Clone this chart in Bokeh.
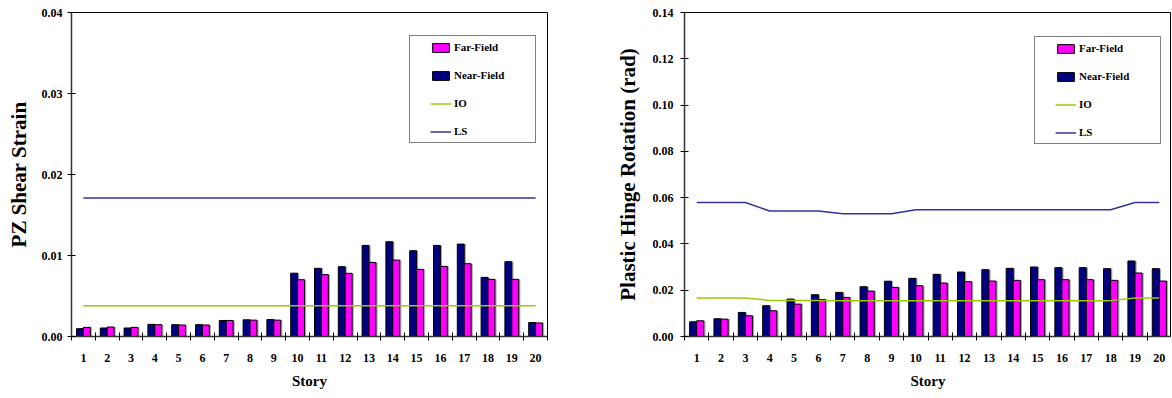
import numpy as np
from bokeh.plotting import figure
from bokeh.layouts import row
from bokeh.models import (FixedTicker, Legend, LegendItem, Range1d,
                          ColumnDataSource, PrintfTickFormatter)
from bokeh.embed import file_html
from bokeh.resources import INLINE

# ---------------- data ----------------
stories = list(range(1, 21))

pz_near = [0.00097, 0.00105, 0.00105, 0.00150, 0.00146, 0.00146, 0.00198, 0.00206, 0.00210, 0.00782,
           0.00842, 0.00862, 0.01125, 0.01170, 0.01059, 0.01125, 0.01141, 0.00730, 0.00924, 0.00172]
pz_far = [0.00113, 0.00117, 0.00113, 0.00146, 0.00142, 0.00142, 0.00198, 0.00202, 0.00202, 0.00701,
          0.00764, 0.00780, 0.00915, 0.00944, 0.00829, 0.00866, 0.00899, 0.00706, 0.00706, 0.00168]
pz_io = [0.0038, 0.0038, 0.0038, 0.0038, 0.0038, 0.0038, 0.0038, 0.0038, 0.0038, 0.0038,
         0.0038, 0.0038, 0.0038, 0.0038, 0.0038, 0.0038, 0.0038, 0.0038, 0.0038, 0.0038]
pz_ls = [0.0171, 0.0171, 0.0171, 0.0171, 0.0171, 0.0171, 0.0171, 0.0171, 0.0171, 0.0171,
         0.0171, 0.0171, 0.0171, 0.0171, 0.0171, 0.0171, 0.0171, 0.0171, 0.0171, 0.0171]
pz_yticks = [0.00, 0.01, 0.02, 0.03, 0.04]

ph_near = [0.00635, 0.00765, 0.01040, 0.01329, 0.01617, 0.01805, 0.01906, 0.02150, 0.02390, 0.02513,
           0.02686, 0.02787, 0.02888, 0.02946, 0.03004, 0.02975, 0.02975, 0.02931, 0.03264, 0.02931]
ph_far = [0.00679, 0.00750, 0.00895, 0.01112, 0.01400, 0.01600, 0.01690, 0.01964, 0.02123, 0.02195,
          0.02310, 0.02368, 0.02397, 0.02426, 0.02455, 0.02455, 0.02455, 0.02426, 0.02744, 0.02397]
ph_io = [0.0166, 0.0166, 0.0166, 0.0156, 0.0156, 0.0156, 0.0154, 0.0154, 0.0154, 0.0155,
         0.0155, 0.0155, 0.0155, 0.0155, 0.0155, 0.0155, 0.0155, 0.0155, 0.0166, 0.0166]
ph_ls = [0.0579, 0.0579, 0.0579, 0.0542, 0.0542, 0.0542, 0.0530, 0.0530, 0.0530, 0.0548,
         0.0548, 0.0548, 0.0548, 0.0548, 0.0548, 0.0548, 0.0548, 0.0548, 0.0579, 0.0579]
ph_yticks = [0.00, 0.02, 0.04, 0.06, 0.08, 0.10, 0.12, 0.14]

FONT = "Liberation Serif"
NAVY = "#000080"
MAGENTA = "#FF00FF"
IO_C = "#99CC00"
LS_C = "#333399"


def build(ylabel, near, far, io, ls, yticks, ymax, width, border_left, border_right,
          tick_standoff, title_standoff, legend_loc):
    p = figure(width=width, height=396, output_backend="svg", toolbar_location=None,
               x_range=Range1d(0.5, 20.5), y_range=Range1d(0, ymax),
               min_border_left=border_left, min_border_right=border_right,
               min_border_top=12, min_border_bottom=60)
    p.grid.visible = False
    p.outline_line_color = "black"
    p.outline_line_width = 1
    p.background_fill_color = "white"

    x = np.array(stories, dtype=float)
    src = ColumnDataSource(dict(
        xn=x - 0.145, xf=x + 0.145,
        xns=x - 0.145 + 0.07, xfs=x + 0.145 + 0.07,
        near=near, far=far, io=io, ls=ls, x=x))

    # shadows
    p.vbar(x="xns", top="near", width=0.29, source=src, fill_color="#a8a8a8",
           line_color=None)
    p.vbar(x="xfs", top="far", width=0.29, source=src, fill_color="#a8a8a8",
           line_color=None)
    r_near = p.vbar(x="xn", top="near", width=0.29, source=src, fill_color=NAVY,
                    line_color="black", line_width=1)
    r_far = p.vbar(x="xf", top="far", width=0.29, source=src, fill_color=MAGENTA,
                   line_color="black", line_width=1)
    r_io = p.line(x="x", y="io", source=src, line_color=IO_C, line_width=1.5)
    r_ls = p.line(x="x", y="ls", source=src, line_color=LS_C, line_width=1.5)

    # x axis
    xa = p.xaxis[0]
    xa.ticker = FixedTicker(ticks=stories, minor_ticks=[s - 0.5 for s in stories] + [stories[-1] + 0.5])
    xa.major_tick_line_color = None
    xa.major_tick_in = 0
    xa.major_tick_out = 0
    xa.minor_tick_line_color = "black"
    xa.minor_tick_in = 4
    xa.minor_tick_out = 4
    xa.major_label_standoff = 13
    xa.axis_label = "Story"
    xa.axis_label_standoff = 8

    ya = p.yaxis[0]
    ya.ticker = FixedTicker(ticks=yticks)
    ya.formatter = PrintfTickFormatter(format="%.2f")
    ya.major_tick_in = 4
    ya.major_tick_out = 4
    ya.minor_tick_line_color = None
    ya.major_label_standoff = tick_standoff
    ya.axis_label = ylabel
    ya.axis_label_standoff = title_standoff

    for ax in (xa, ya):
        ax.axis_line_color = "#333333"
        ax.axis_line_width = 1.5
        ax.major_label_text_font = FONT
        ax.major_label_text_font_style = "bold"
        ax.major_label_text_font_size = "12px"
        ax.major_label_text_color = "black"
        ax.axis_label_text_font = FONT
        ax.axis_label_text_font_style = "bold"
        ax.axis_label_text_color = "black"
    xa.axis_label_text_font_size = "15px"
    ya.axis_label_text_font_size = "21px"

    legend = Legend(items=[
        LegendItem(label="Far-Field", renderers=[r_far]),
        LegendItem(label="Near-Field", renderers=[r_near]),
        LegendItem(label="IO", renderers=[r_io]),
        LegendItem(label="LS", renderers=[r_ls]),
    ], location=legend_loc)
    legend.label_text_font = FONT
    legend.label_text_font_style = "bold"
    legend.label_text_font_size = "11px"
    legend.label_text_color = "black"
    legend.glyph_width = 21
    legend.glyph_height = 11
    legend.label_height = 12
    legend.label_standoff = 3
    legend.label_width = 76
    legend.spacing = 16
    legend.padding = 5
    legend.margin = 0
    legend.border_line_color = "black"
    legend.border_line_width = 1
    legend.background_fill_color = "white"
    legend.background_fill_alpha = 1
    legend.title = " "
    legend.title_location = "left"
    legend.title_text_font_size = "11px"
    legend.title_standoff = 3
    p.add_layout(legend)
    return p


p1 = build("PZ Shear Strain", pz_near, pz_far, pz_io, pz_ls, pz_yticks, 0.04,
           width=557, border_left=71, border_right=10, tick_standoff=5,
           title_standoff=8, legend_loc=(338, 193))
p2 = build("Plastic Hinge Rotation (rad)", ph_near, ph_far, ph_io, ph_ls, ph_yticks, 0.14,
           width=614, border_left=127, border_right=0, tick_standoff=7,
           title_standoff=10, legend_loc=(350, 192))

layout = row(p1, p2)
open("out.html", "w").write(file_html(layout, INLINE))
